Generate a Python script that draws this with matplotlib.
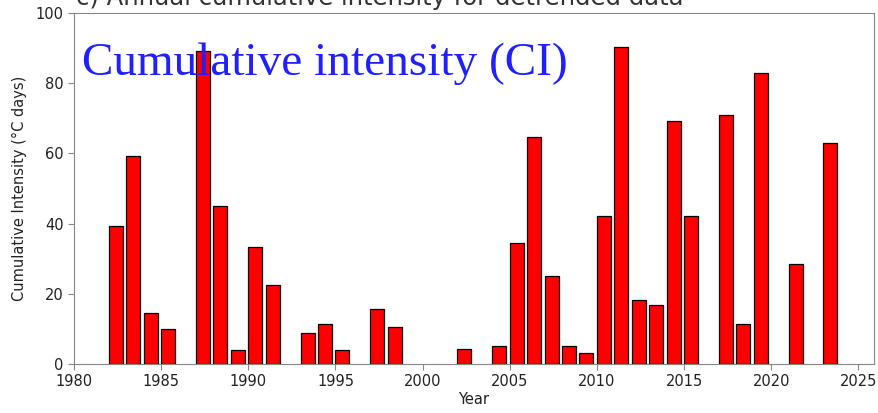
"""
Annual cumulative intensity bar chart.
"""
# -*- coding: utf-8 -*-

import matplotlib
matplotlib.use("Agg")
import matplotlib.pyplot as plt

# Years with an event and the cumulative intensity (°C days) of each one.
years = [1982, 1983, 1984, 1985, 1987, 1988, 1989, 1990, 1991,
         1993, 1994, 1995, 1997, 1998, 2002, 2004, 2005, 2006, 2007,
         2008, 2009, 2010, 2011, 2012, 2013, 2014, 2015, 2017, 2018,
         2019, 2021, 2023]
intensity = [39.3, 59.3, 14.4, 10.0, 89.2, 45.0, 4.0, 33.4, 22.4,
             8.7, 11.4, 4.0, 15.6, 10.4, 4.2, 5.0, 34.5, 64.5, 25.2,
             5.0, 3.0, 42.1, 90.3, 18.2, 16.7, 69.3, 42.1, 71.0, 11.4,
             83.0, 28.5, 63.0]
x_ticks = [1980, 1985, 1990, 1995, 2000, 2005, 2010, 2015, 2020, 2025]
y_ticks = [0, 20, 40, 60, 80, 100]

fig = plt.figure(figsize=(8.79, 4.13), dpi=100)
ax = fig.add_axes([0.0842, 0.1186, 0.9101, 0.8504])

# Bars start at the year and cover 0.8 of it.
ax.bar(years, intensity, width=0.8, align="edge", color="red",
       edgecolor="black", linewidth=0.9)

ax.set_xlim(1980, 2025.9)
ax.set_ylim(0, 100)
ax.set_xticks(x_ticks)
ax.set_yticks(y_ticks)
ax.tick_params(labelsize=10.5, colors="#888888", labelcolor="#222222",
               length=4)
for spine in ax.spines.values():
    spine.set_color("#888888")

ax.set_xlabel("Year", fontsize=10.5, color="#222222", labelpad=2)
ax.set_ylabel("Cumulative Intensity (°C days)", fontsize=10.5,
              color="#222222", labelpad=6)

# Original title, cut off by the top of the picture.
fig.text(0.086, 0.987, "c) Annual cumulative intensity for detrended data",
         ha="left", va="baseline", fontsize=17.5, color="#333333")

# Big overlay label.
ax.text(0.01, 0.855, "Cumulative intensity (CI)", transform=ax.transAxes,
        fontsize=34, family="Liberation Serif", color="#1f1fff",
        ha="left", va="center", zorder=5)

fig.savefig("out.png", dpi=100)
